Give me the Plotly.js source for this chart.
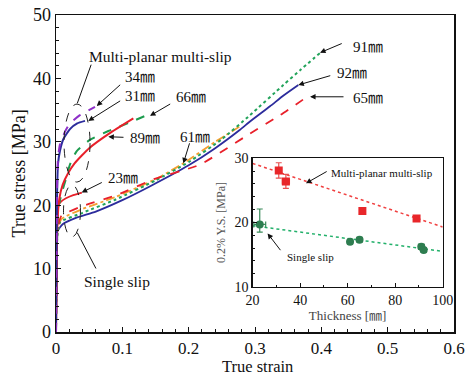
<!DOCTYPE html>
<html><head><meta charset="utf-8">
<script src="https://cdn.plot.ly/plotly-3.0.1.min.js"></script>
<style>html,body{margin:0;padding:0;background:#fff}#c{width:465px;height:381px}</style>
</head><body><div id="c"></div>
<script>
// ---- main chart: true stress-strain curves ----
const s34_x = [0, 0.0008, 0.0015, 0.003, 0.006, 0.0136, 0.021, 0.036, 0.0588];
const s34_y = [0, 12, 22, 27.5, 29.6, 31.6, 32.9, 34.2, 35.5];
const s31_x = [0, 0.0008, 0.0015, 0.003, 0.006, 0.011, 0.021, 0.032, 0.0437];
const s31_y = [0, 11, 21, 26.5, 28.6, 30.4, 32.0, 32.9, 33.3];
const s66_x = [0, 0.001, 0.002, 0.0035, 0.0086, 0.016, 0.021, 0.031, 0.051, 0.079, 0.11, 0.139];
const s66_y = [0, 10, 16, 19.5, 21.9, 24.5, 26.4, 28.5, 30.3, 31.7, 33.0, 34.3];
const s89_x = [0, 0.001, 0.002, 0.005, 0.01, 0.018, 0.028, 0.05, 0.08, 0.1166];
const s89_y = [0, 10, 17, 21.0, 23.2, 25.0, 26.6, 29.0, 31.3, 33.7];
const s23_x = [0, 0.001, 0.002, 0.0035, 0.008, 0.015, 0.026, 0.039];
const s23_y = [0, 10, 17, 20.0, 20.6, 21.1, 21.6, 22.0];
const s65_x = [0, 0.001, 0.002, 0.008, 0.041, 0.0915, 0.15, 0.217, 0.2925, 0.3377, 0.38];
const s65_y = [0, 10, 16, 18.3, 19.9, 21.6, 24.2, 26.4, 31.3, 34.2, 37.2];
const s61_x = [0, 0.001, 0.002, 0.008, 0.04, 0.09, 0.15, 0.192, 0.24, 0.28];
const s61_y = [0, 10, 15.5, 17.8, 19.4, 21.3, 24.1, 26.6, 30.0, 32.6];
const s91_x = [0, 0.001, 0.002, 0.006, 0.04, 0.09, 0.15, 0.2, 0.25, 0.2925, 0.3427, 0.368, 0.398];
const s91_y = [0, 10, 15.2, 17.3, 18.8, 20.9, 23.9, 26.8, 30.4, 34.2, 38.96, 41.3, 44.0];
const s92_x = [0, 0.001, 0.0018, 0.01, 0.03, 0.06, 0.1, 0.142, 0.2, 0.24, 0.2774, 0.2925, 0.3226, 0.343, 0.3653];
const s92_y = [0, 10, 15.8, 17.0, 18.0, 19.0, 20.8, 23.0, 26.3, 29.0, 31.9, 33.2, 35.6, 37.3, 38.96];

// ---- inset: 0.2% yield stress vs thickness ----
const multiThick = [31, 34, 66.2, 89];
const multiYS = [28.1, 26.4, 21.8, 20.6];
const multiErrY = [1.2, 1.1, 0.4, 0.3];
const multiErrX = [1.0, 1.5, 1.0, 1.0];
const singleThick = [23, 61, 65, 91, 92];
const singleYS = [19.7, 17.0, 17.3, 16.2, 15.7];
const singleErrYp = [2.4, 0.3, 0.3, 0.4, 0.3];
const singleErrYm = [1.2, 0.3, 0.3, 0.4, 0.3];
const singleErrX = [2.5, 1.0, 1.0, 1.2, 1.0];
const multiFitX = [20, 100], multiFitY = [29.2, 19.3];
const singleFitX = [20, 100], singleFitY = [19.5, 15.5];

const FONT = "'Liberation Serif', 'Noto Sans CJK JP', serif";
const PURPLE = '#8e2fc8', BLUE = '#2c2c9c', GREEN = '#1d9c4e', RED = '#e8202a', ORANGE = '#f5a030', GREEN2 = '#22a35a';

function curve(x, y, color, dash, w) {
  return {x: x, y: y, type: 'scatter', mode: 'lines', line: {color: color, dash: dash, width: w || 1.8, shape: 'spline', smoothing: 0.5}, hoverinfo: 'none', xaxis: 'x', yaxis: 'y'};
}

const traces = [
  curve(s92_x, s92_y, BLUE, 'solid'),
  curve(s61_x, s61_y, ORANGE, 'dashdot'),
  curve(s91_x, s91_y, GREEN2, 'dot', 2),
  curve(s65_x, s65_y, RED, 'dash'),
  curve(s23_x, s23_y, RED, 'solid'),
  curve(s66_x, s66_y, GREEN, 'dash', 2),
  curve(s89_x, s89_y, RED, 'solid', 2),
  curve(s31_x, s31_y, BLUE, 'solid', 2),
  curve(s34_x, s34_y, PURPLE, 'dash', 2),
  {x: multiFitX, y: multiFitY, type: 'scatter', mode: 'lines', line: {color: '#f04040', dash: 'dot', width: 1.5}, xaxis: 'x2', yaxis: 'y2', hoverinfo: 'none'},
  {x: singleFitX, y: singleFitY, type: 'scatter', mode: 'lines', line: {color: '#22b06a', dash: 'dot', width: 1.5}, xaxis: 'x2', yaxis: 'y2', hoverinfo: 'none'},
  {x: multiThick, y: multiYS, type: 'scatter', mode: 'markers', marker: {symbol: 'square', size: 8, color: '#e8262a'},
   error_y: {type: 'data', array: multiErrY, color: '#e85050', thickness: 1.2, width: 3},
   error_x: {type: 'data', array: multiErrX, color: '#e85050', thickness: 1.2, width: 3}, xaxis: 'x2', yaxis: 'y2', hoverinfo: 'none'},
  {x: singleThick, y: singleYS, type: 'scatter', mode: 'markers', marker: {symbol: 'circle', size: 8, color: '#2e7d50'},
   error_y: {type: 'data', array: singleErrYp, arrayminus: singleErrYm, color: '#3a8a5a', thickness: 1.2, width: 3},
   error_x: {type: 'data', array: singleErrX, color: '#3a8a5a', thickness: 1.2, width: 3}, xaxis: 'x2', yaxis: 'y2', hoverinfo: 'none'}
];

function label(x, y, text, size, ref) {
  return {x: x, y: y, xref: ref ? 'x2' : 'x', yref: ref ? 'y2' : 'y', text: text, showarrow: false,
          font: {family: FONT, size: size, color: '#111'}, xanchor: 'center', yanchor: 'middle'};
}
function arrow(tx, ty, hx, hy, head, ref) {
  const xr = ref ? 'x2' : 'x', yr = ref ? 'y2' : 'y';
  return {x: hx, y: hy, ax: tx, ay: ty, xref: xr, yref: yr, axref: xr, ayref: yr, text: '', showarrow: true,
          arrowhead: head ? 2 : 0, arrowsize: 1.1, arrowwidth: 1, arrowcolor: '#111', standoff: 0, startstandoff: 0};
}

const annotations = [
  label(0.1568, 43.4, 'Multi-planar multi-slip', 15.5),
  arrow(0.0538, 42.4, 0.0321, 36.07, false),
  label(0.1266, 40.2, '34㎜', 15), arrow(0.099, 39.2, 0.0614, 35.65, true),
  label(0.1266, 37.2, '31㎜', 15), arrow(0.099, 36.6, 0.0487, 33.3, true),
  label(0.2035, 37.1, '66㎜', 15), arrow(0.1744, 36.1, 0.1417, 34.1, true),
  label(0.1342, 30.6, '89㎜', 15), arrow(0.104, 30.7, 0.0789, 30.8, true),
  label(0.101, 24.3, '23㎜', 15), arrow(0.0713, 23.7, 0.0387, 22.0, true),
  label(0.2096, 30.8, '61㎜', 15), arrow(0.202, 30.0, 0.192, 26.6, true),
  label(0.4704, 44.95, '91㎜', 15), arrow(0.433, 45.6, 0.398, 44.05, true),
  label(0.4462, 40.85, '92㎜', 15), arrow(0.4157, 40.5, 0.3653, 38.96, true),
  label(0.4704, 36.9, '65㎜', 15), arrow(0.4357, 37.1, 0.383, 37.1, true),
  label(0.092, 7.9, 'Single slip', 15.5),
  arrow(0.0614, 9.78, 0.0321, 15.66, false),
  label(74.65, 27.76, 'Multi-planar multi-slip', 11, true), arrow(51.8, 28.07, 42.44, 26.1, true, true),
  label(44.5, 14.58, 'Single slip', 11, true), arrow(32.2, 15.45, 26.3, 18.3, true, true),
  {xref: 'paper', yref: 'paper', x: 0.5075, y: -0.108, text: 'True strain', showarrow: false, xanchor: 'center', yanchor: 'middle',
   font: {family: FONT, size: 16.5, color: '#111'}},
  {xref: 'paper', yref: 'paper', x: -0.093, y: 0.5, text: 'True stress [MPa]', showarrow: false, textangle: -90, xanchor: 'center', yanchor: 'middle',
   font: {family: FONT, size: 18, color: '#111'}}
];

const shapes = [
  {type: 'circle', xref: 'x', yref: 'y', x0: 0.0121, x1: 0.0513, y0: 23.65, y1: 35.95, line: {color: '#222', width: 1, dash: 'dash'}},
  {type: 'circle', xref: 'x', yref: 'y', x0: 0.0113, x1: 0.0369, y0: 15.0, y1: 23.2, line: {color: '#222', width: 1, dash: 'dash'}}
];

const axBase = {showgrid: false, zeroline: false, showline: true, linecolor: '#111', linewidth: 1.5, mirror: true,
  ticks: 'inside', ticklen: 5, tickwidth: 1, tickcolor: '#111'};

const layout = {
  width: 465, height: 381, margin: {l: 56, r: 11, t: 15, b: 49},
  paper_bgcolor: '#fff', plot_bgcolor: '#fff', showlegend: false,
  font: {family: FONT, color: '#111'},
  xaxis: Object.assign({}, axBase, {range: [0, 0.6], dtick: 0.1, tick0: 0, tickfont: {family: FONT, size: 17},
    minor: {dtick: 0.02, ticks: 'inside', ticklen: 3, tickcolor: '#111'}}),
  yaxis: Object.assign({}, axBase, {range: [0, 50], dtick: 10, tick0: 0, tickfont: {family: FONT, size: 18},
    minor: {dtick: 2, ticks: 'inside', ticklen: 3, tickcolor: '#111'}}),
  xaxis2: Object.assign({}, axBase, {domain: [0.494, 0.9716], anchor: 'y2', range: [20, 100], dtick: 20, linewidth: 1.2,
    tickfont: {family: FONT, size: 14}, ticklen: 4, minor: {dtick: 10, ticks: 'inside', ticklen: 2, tickcolor: '#111'},
    title: {text: 'Thickness [㎜]', font: {family: FONT, size: 13, color: '#444'}, standoff: 0}}),
  yaxis2: Object.assign({}, axBase, {domain: [0.143, 0.548], anchor: 'x2', range: [10, 30], dtick: 10, linewidth: 1.2,
    tickfont: {family: FONT, size: 14}, ticklen: 4, minor: {dtick: 2, ticks: 'inside', ticklen: 2, tickcolor: '#111'},
    title: {text: '0.2% Y.S. [MPa]', font: {family: FONT, size: 12, color: '#555'}, standoff: 6}}),
  annotations: annotations,
  shapes: shapes
};

Plotly.newPlot('c', traces, layout, {staticPlot: true, displayModeBar: false});
</script></body></html>
